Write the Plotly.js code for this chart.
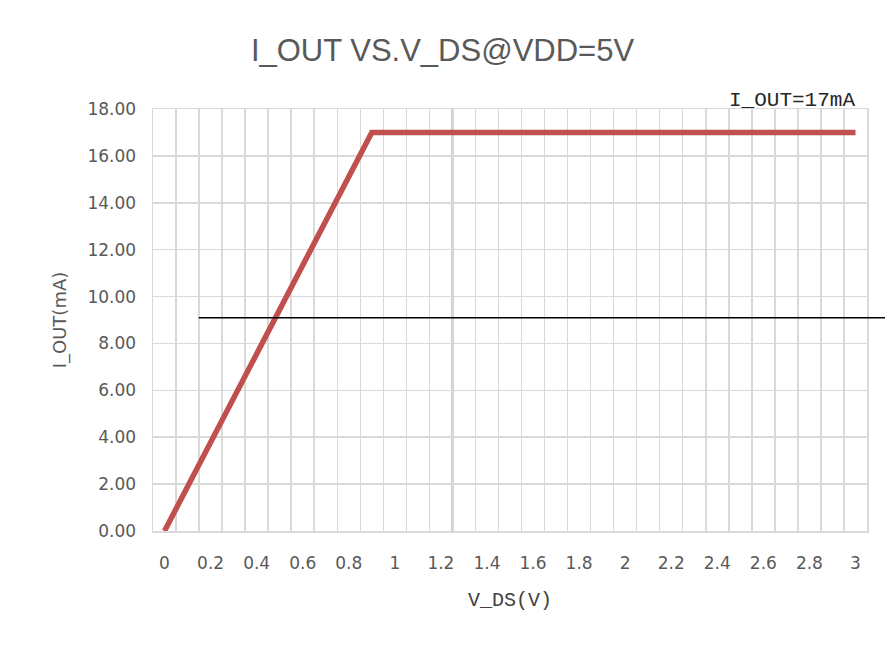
<!DOCTYPE html>
<html>
<head>
<meta charset="utf-8">
<script src="https://cdn.plot.ly/plotly-3.0.1.min.js"></script>
<style>html,body{margin:0;padding:0;background:#fff;}#chart{width:885px;height:648px;}</style>
</head>
<body>
<div id="chart"></div>
<script>
// V_DS values (V)
const vds = [0, 0.1, 0.2, 0.3, 0.4, 0.5, 0.6, 0.7, 0.8, 0.9, 1.0, 1.1, 1.2, 1.3, 1.4, 1.5,
             1.6, 1.7, 1.8, 1.9, 2.0, 2.1, 2.2, 2.3, 2.4, 2.5, 2.6, 2.7, 2.8, 2.9, 3.0];
// I_OUT values (mA)
const iout = [0, 1.9, 3.8, 5.7, 7.6, 9.4, 11.3, 13.2, 15.1, 17, 17, 17, 17, 17, 17, 17,
              17, 17, 17, 17, 17, 17, 17, 17, 17, 17, 17, 17, 17, 17, 17];
const titleText = "I_OUT VS.V_DS@VDD=5V";
const xTitle = "V_DS(V)";
const yTitle = "I_OUT(mA)";
const noteText = "I_OUT=17mA";
const refLevel = 9.1;     // stray horizontal reference line (mA)
const heavyGridAt = 1.25; // darker vertical gridline position (V)

const grid = "#d9d9d9";
const txt = "#595959";

const trace = {
  x: vds, y: iout, type: "scatter", mode: "lines",
  line: {color: "#c0504d", width: 5.5},
  hoverinfo: "x+y"
};

const layout = {
  width: 885, height: 648,
  margin: {l: 153, r: 18, t: 109, b: 117},
  paper_bgcolor: "#fff", plot_bgcolor: "#fff",
  showlegend: false,
  title: {text: titleText, x: 0.5, xanchor: "center", y: 1 - 50/648, yanchor: "middle",
          font: {family: "Liberation Sans, Arial, sans-serif", size: 31, color: txt}},
  xaxis: {
    range: [-0.05, 3.05], tickmode: "linear", tick0: 0, dtick: 0.2,
    showgrid: false, zeroline: false, ticks: "",
    showline: true, linecolor: grid, linewidth: 1.5, mirror: true,
    ticklabelstandoff: 16,
    tickfont: {family: "DejaVu Sans, sans-serif", size: 17, color: txt},
    minor: {tick0: 0.05, dtick: 0.1, showgrid: true, gridcolor: grid, gridwidth: 1.5, ticks: ""},
    title: {text: xTitle, standoff: 20,
            font: {family: "Liberation Mono, DejaVu Sans Mono, monospace", size: 20, color: "#404040"}}
  },
  yaxis: {
    range: [0, 18], tickmode: "linear", tick0: 0, dtick: 2, tickformat: ".2f",
    showgrid: true, gridcolor: grid, gridwidth: 1.5, zeroline: false, ticks: "",
    showline: true, linecolor: grid, linewidth: 1.5, mirror: true,
    ticklabelstandoff: 12,
    tickfont: {family: "DejaVu Sans, sans-serif", size: 17, color: txt},
    title: {text: yTitle, standoff: 16,
            font: {family: "DejaVu Sans, sans-serif", size: 18, color: txt}}
  },
  shapes: [
    {type: "line", xref: "x", yref: "paper", x0: heavyGridAt, x1: heavyGridAt, y0: 0, y1: 1,
     line: {color: "#d0d0d0", width: 3}, layer: "below"},
    {type: "line", xref: "paper", yref: "y", x0: 0.064, x1: 1.03, y0: refLevel, y1: refLevel,
     line: {color: "#000", width: 1.5}, layer: "above"}
  ],
  annotations: [
    {text: noteText, xref: "paper", yref: "paper", x: 0.986, y: 1.02, xanchor: "right", yanchor: "middle",
     showarrow: false, font: {family: "Liberation Mono, DejaVu Sans Mono, monospace", size: 21, color: "#262626"}}
  ]
};

Plotly.newPlot("chart", [trace], layout, {displayModeBar: false, staticPlot: true});
</script>
</body>
</html>
